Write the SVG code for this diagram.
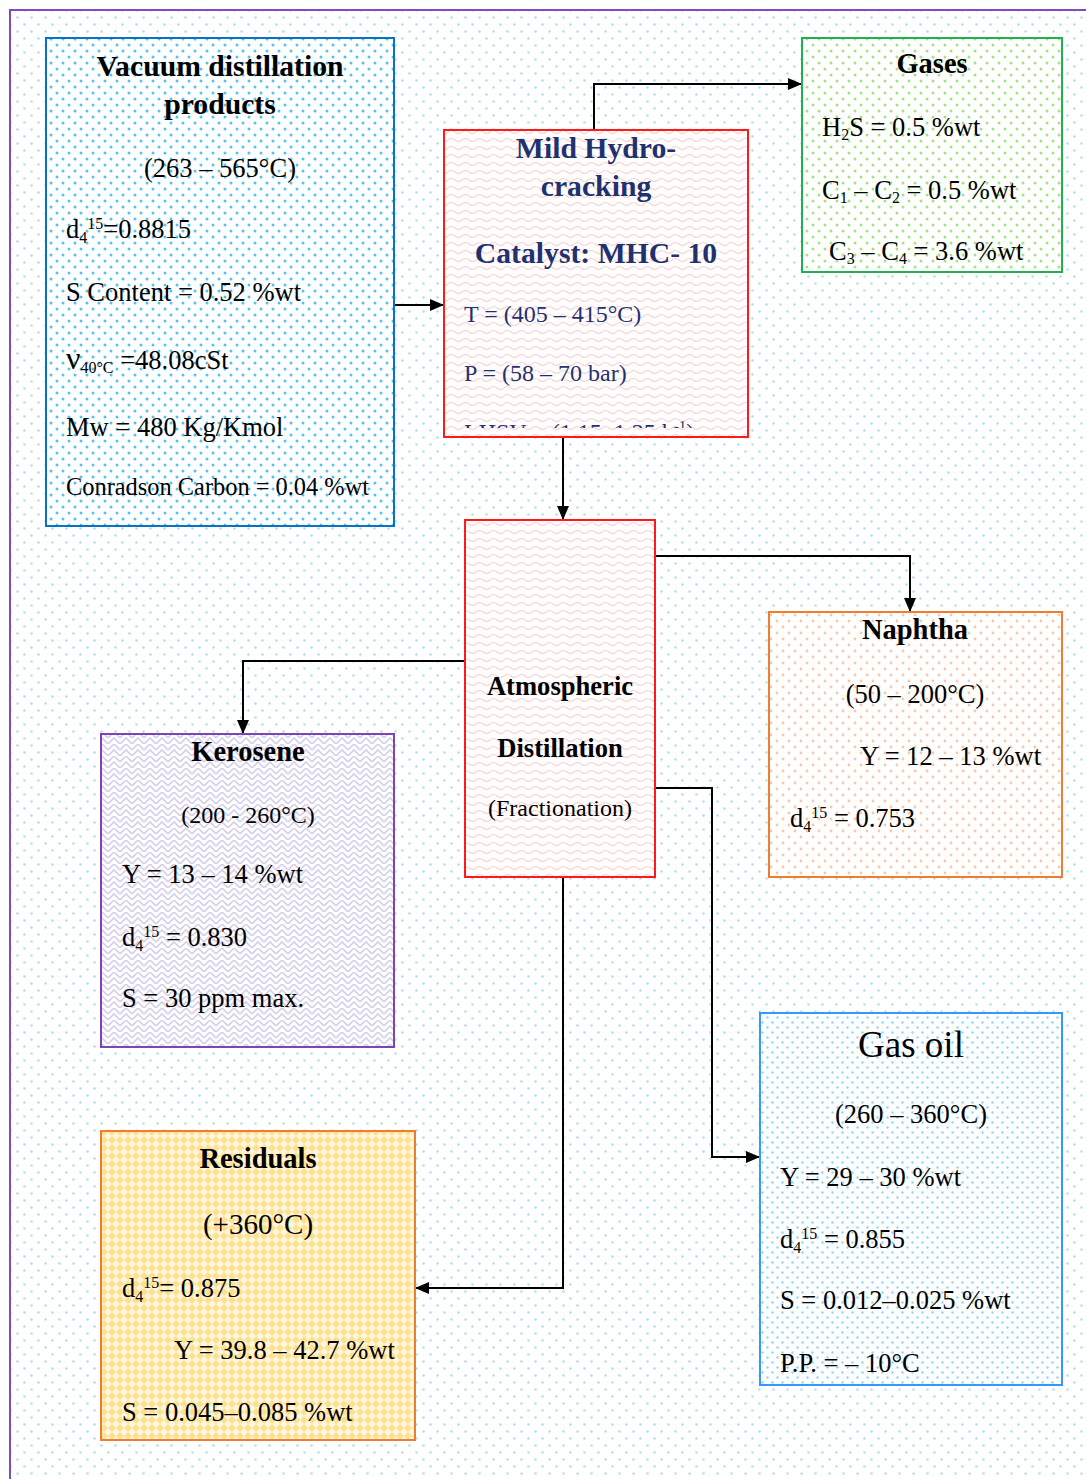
<svg xmlns="http://www.w3.org/2000/svg" width="1086" height="1479" viewBox="0 0 1086 1479">
<defs>
<pattern id="bgDots" width="14" height="14" patternUnits="userSpaceOnUse">
<rect width="14" height="14" fill="#ffffff"/>
<circle cx="3.5" cy="3.5" r="1.3" fill="#b3def0"/>
<circle cx="10.5" cy="10.5" r="1.3" fill="#b3def0"/>
</pattern>
<pattern id="blueDots" width="12" height="12" patternUnits="userSpaceOnUse">
<rect width="12" height="12" fill="#ffffff"/>
<circle cx="3" cy="3" r="1.5" fill="#4fc3f2"/>
<circle cx="9" cy="9" r="1.5" fill="#4fc3f2"/>
</pattern>
<pattern id="greenDots" width="12" height="12" patternUnits="userSpaceOnUse">
<rect width="12" height="12" fill="#ffffff"/>
<circle cx="3" cy="3" r="1.5" fill="#a3e585"/>
<circle cx="9" cy="9" r="1.5" fill="#a3e585"/>
</pattern>
<pattern id="orangeDots" width="12" height="12" patternUnits="userSpaceOnUse">
<rect width="12" height="12" fill="#ffffff"/>
<circle cx="3" cy="3" r="1.4" fill="#f8c9a8"/>
<circle cx="9" cy="9" r="1.4" fill="#f8c9a8"/>
</pattern>
<pattern id="gasoilDots" width="10" height="10" patternUnits="userSpaceOnUse">
<rect width="10" height="10" fill="#ffffff"/>
<circle cx="2.5" cy="2.5" r="1.2" fill="#8fd6f5"/>
<circle cx="7.5" cy="7.5" r="1.2" fill="#8fd6f5"/>
</pattern>
<pattern id="pinkWave" width="14" height="8" patternUnits="userSpaceOnUse">
<rect width="14" height="8" fill="#ffffff"/>
<path d="M0 4 Q3.5 1 7 4 T14 4" fill="none" stroke="#ffcfcf" stroke-width="1.1"/>
</pattern>
<pattern id="lavZig" width="12" height="12" patternUnits="userSpaceOnUse">
<rect width="12" height="12" fill="#ffffff"/>
<path d="M0 6 L6 0 L12 6 M0 12 L6 6 L12 12" fill="none" stroke="#d6cfe9" stroke-width="1.6"/>
</pattern>
<pattern id="yellowCheck" width="8" height="8" patternUnits="userSpaceOnUse">
<rect width="8" height="8" fill="#fff7dd"/>
<path d="M0 0 L4 4 L0 8 Z M8 0 L4 4 L8 8 Z" fill="#ffe08f"/>
</pattern>
<marker id="arr" markerWidth="14" markerHeight="12" refX="13" refY="6" orient="auto" markerUnits="userSpaceOnUse">
<path d="M0 0 L14 6 L0 12 Z" fill="#000"/>
</marker>
<clipPath id="mhcClip"><rect x="446" y="132" width="300" height="296"/></clipPath>
<style>
text{font-family:"Liberation Serif","Times New Roman",serif;fill:#000;}
.t{font-size:28.5px;font-weight:bold;text-anchor:middle;}
.tl{font-size:29.7px;}
.ta{font-size:26.6px;}
.b{font-size:26.5px;}
.c{text-anchor:middle;}
.s{font-size:24px;}
.n{fill:#1f3270;}
.sub{font-size:16px;}
.box{stroke-width:2;}
.con{fill:none;stroke:#000;stroke-width:2;}
</style>
</defs>
<rect x="0" y="0" width="1086" height="1479" fill="#ffffff"/>
<rect x="10" y="10" width="1090" height="1490" fill="url(#bgDots)" stroke="#7f4bc0" stroke-width="2"/>

<g id="connectors">
<path class="con" d="M394 305 H443" marker-end="url(#arr)"/>
<path class="con" d="M594 130 V84 H801" marker-end="url(#arr)"/>
<path class="con" d="M563 437 V519" marker-end="url(#arr)"/>
<path class="con" d="M655 556 H910 V611" marker-end="url(#arr)"/>
<path class="con" d="M465 661 H243 V733" marker-end="url(#arr)"/>
<path class="con" d="M652 788 H712 V1157 H759" marker-end="url(#arr)"/>
<path class="con" d="M563 877 V1288 H416" marker-end="url(#arr)"/>
</g>

<g id="vacuum">
<rect class="box" x="46" y="38" width="348" height="488" fill="url(#blueDots)" stroke="#0a72c4"/>
<text class="t tl" x="220" y="76">Vacuum distillation</text>
<text class="t tl" x="220" y="114">products</text>
<text class="b c" x="220" y="177">(263 – 565°C)</text>
<text class="b" x="66" y="238">d<tspan class="sub" dy="5">4</tspan><tspan class="sub" dy="-14">15</tspan><tspan dy="9">=0.8815</tspan></text>
<text class="b" x="66" y="301">S Content = 0.52 %wt</text>
<text class="b" x="66" y="369"><tspan font-size="32">ν</tspan><tspan class="sub" dy="4">40°C</tspan><tspan dy="-4"> =48.08cSt</tspan></text>
<text class="b" x="66" y="436">Mw = 480 Kg/Kmol</text>
<text class="s" x="66" y="495" style="font-size:24.4px">Conradson Carbon  = 0.04 %wt</text>
</g>

<g id="mhc">
<rect class="box" x="444" y="130" width="304" height="307" fill="url(#pinkWave)" stroke="#ff1a1a"/>
<text class="t tl n" x="596" y="158">Mild Hydro-</text>
<text class="t tl n" x="596" y="196">cracking</text>
<text class="t tl n" x="596" y="263">Catalyst: MHC- 10</text>
<text class="s n" x="464" y="322">T = (405 – 415°C)</text>
<text class="s n" x="464" y="381">P = (58 – 70 bar)</text>
<text class="s n" x="464" y="440" clip-path="url(#mhcClip)">LHSV = (1.15–1.25 h<tspan font-size="15" dy="-9">-1</tspan><tspan dy="9">)</tspan></text>
</g>

<g id="gases">
<rect class="box" x="802" y="38" width="260" height="234" fill="url(#greenDots)" stroke="#1fb050"/>
<text class="t" x="932" y="73">Gases</text>
<text class="b" x="822" y="136">H<tspan class="sub" dy="4">2</tspan><tspan dy="-4">S = 0.5 %wt</tspan></text>
<text class="b" x="822" y="199">C<tspan class="sub" dy="4">1</tspan><tspan dy="-4"> – C</tspan><tspan class="sub" dy="4">2</tspan><tspan dy="-4"> = 0.5 %wt</tspan></text>
<text class="b" x="829" y="260">C<tspan class="sub" dy="4">3</tspan><tspan dy="-4"> – C</tspan><tspan class="sub" dy="4">4</tspan><tspan dy="-4"> = 3.6 %wt</tspan></text>
</g>

<g id="atmospheric">
<rect class="box" x="465" y="520" width="190" height="357" fill="url(#pinkWave)" stroke="#ff1a1a"/>
<text class="t ta" x="560" y="695">Atmospheric</text>
<text class="t ta" x="560" y="757">Distillation</text>
<text class="s c" x="560" y="816">(Fractionation)</text>
</g>

<g id="naphtha">
<rect class="box" x="769" y="612" width="293" height="265" fill="url(#orangeDots)" stroke="#ed7d31"/>
<text class="t" x="915" y="639">Naphtha</text>
<text class="b c" x="915" y="703">(50 – 200°C)</text>
<text class="b" x="860" y="765">Y = 12 – 13 %wt</text>
<text class="b" x="790" y="827">d<tspan class="sub" dy="5">4</tspan><tspan class="sub" dy="-14">15</tspan><tspan dy="9"> = 0.753</tspan></text>
</g>

<g id="kerosene">
<rect class="box" x="101" y="734" width="293" height="313" fill="url(#lavZig)" stroke="#7c44b4"/>
<text class="t" x="248" y="761">Kerosene</text>
<text class="s c" x="248" y="823">(200 - 260°C)</text>
<text class="b" x="122" y="883">Y = 13 – 14 %wt</text>
<text class="b" x="122" y="946">d<tspan class="sub" dy="5">4</tspan><tspan class="sub" dy="-14">15</tspan><tspan dy="9"> = 0.830</tspan></text>
<text class="b" x="122" y="1007">S = 30 ppm max.</text>
</g>

<g id="gasoil">
<rect class="box" x="760" y="1013" width="302" height="372" fill="url(#gasoilDots)" stroke="#3399ff"/>
<text class="c" x="911" y="1057" font-size="37">Gas oil</text>
<text class="b c" x="911" y="1123">(260 – 360°C)</text>
<text class="b" x="780" y="1186">Y = 29 – 30 %wt</text>
<text class="b" x="780" y="1248">d<tspan class="sub" dy="5">4</tspan><tspan class="sub" dy="-14">15</tspan><tspan dy="9"> = 0.855</tspan></text>
<text class="b" x="780" y="1309">S = 0.012–0.025 %wt</text>
<text class="b" x="780" y="1372">P.P. = – 10°C</text>
</g>

<g id="residuals">
<rect class="box" x="101" y="1131" width="314" height="309" fill="url(#yellowCheck)" stroke="#ed7d31"/>
<text class="t" x="258" y="1168">Residuals</text>
<text class="c" x="258" y="1234" font-size="29">(+360°C)</text>
<text class="b" x="122" y="1297">d<tspan class="sub" dy="5">4</tspan><tspan class="sub" dy="-14">15</tspan><tspan dy="9">= 0.875</tspan></text>
<text class="b" x="174" y="1359">Y = 39.8 – 42.7 %wt</text>
<text class="b" x="122" y="1421">S = 0.045–0.085 %wt</text>
</g>
</svg>
